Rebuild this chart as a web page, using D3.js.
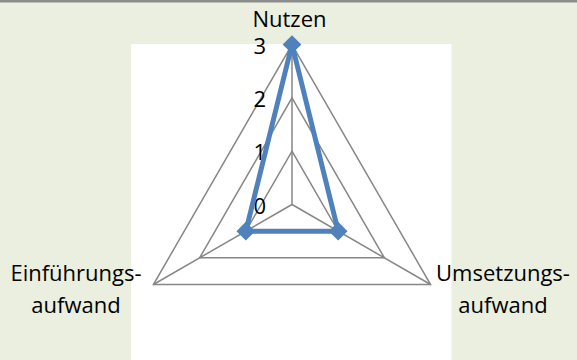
<!DOCTYPE html>
<html><head><meta charset="utf-8">
<script src="https://cdn.jsdelivr.net/npm/d3@7"></script>
<style>
html,body{margin:0;padding:0;background:#EBEFDF;}
svg{display:block;}
text{font-family:"Open Sans",Lato,sans-serif;fill:#000;}
</style></head>
<body>
<svg id="chart" width="577" height="360"></svg>
<script>
// Data
const categories = ["Nutzen", "Umsetzungsaufwand", "Einführungsaufwand"];
const categoryLabels = [["Nutzen"], ["Umsetzungs-", "aufwand"], ["Einführungs-", "aufwand"]];
const values = [3, 1, 1];
const tickValues = [0, 1, 2, 3];

const W = 577, H = 360;
const cx = 292, cy = 204.5, R = 160;
const svg = d3.select("#chart");

svg.append("rect").attr("x",0).attr("y",0).attr("width",W).attr("height",H).attr("fill","#EBEFDF");
svg.append("rect").attr("x",0).attr("y",0).attr("width",W).attr("height",2.5).attr("fill","#8C8C8C");
// plot area
svg.append("rect").attr("x",131).attr("y",44).attr("width",320.5).attr("height",H-44).attr("fill","#FFFFFF");

const r = d3.scaleLinear().domain([0, 3]).range([0, R]);
const step = 2*Math.PI / categories.length;
const ang = c => categories.indexOf(c) * step;
const pt = (c, v) => [cx + r(v)*Math.sin(ang(c)), cy - r(v)*Math.cos(ang(c))];

const g = svg.append("g");
// rings
tickValues.filter(t => t > 0).forEach(t => {
  g.append("path")
    .attr("d", d3.line()(categories.map(c => pt(c, t))) + "Z")
    .attr("fill","none").attr("stroke","#868686").attr("stroke-width",1.5);
});
// spokes
categories.forEach(c => {
  const p = pt(c, 3);
  g.append("line").attr("x1",cx).attr("y1",cy).attr("x2",p[0]).attr("y2",p[1])
    .attr("stroke","#868686").attr("stroke-width",1.5);
});

// tick labels
g.selectAll(".tick").data(tickValues).enter().append("text")
  .attr("x", cx - 26).attr("y", d => cy - r(d) + 9)
  .attr("text-anchor","end").attr("font-size","22px").text(d => d);

// data line
const pts = categories.map((c,i) => pt(c, values[i]));
g.append("path").attr("d", d3.line()(pts) + "Z")
  .attr("fill","none").attr("stroke","#4F81BD").attr("stroke-width",5).attr("stroke-linejoin","miter");
g.selectAll(".mk").data(pts).enter().append("path")
  .attr("d", d3.symbol().type(d3.symbolSquare).size(175)())
  .attr("transform", d => `translate(${d[0]},${d[1]}) rotate(45)`)
  .attr("fill","#4F81BD");

// category labels
const labelPos = [
  {x: 289.5, y: 27},
  {x: 503, y: 281},
  {x: 76, y: 281}
];
categoryLabels.forEach((lines, i) => {
  const t = svg.append("text").attr("text-anchor","middle").attr("font-size","22px");
  lines.forEach((l, j) => {
    t.append("tspan").attr("x", labelPos[i].x).attr("y", labelPos[i].y + j*32).text(l);
  });
});
</script>
</body></html>
